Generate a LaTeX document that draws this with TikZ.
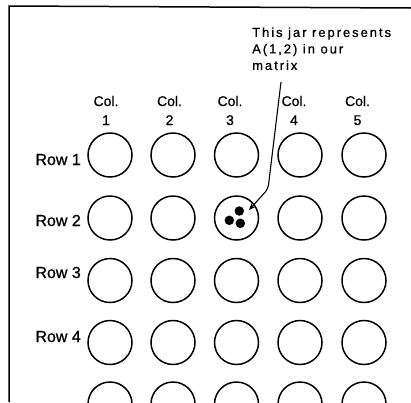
\documentclass[tikz,border=0pt]{standalone}
\usepackage{fontspec}
\setmainfont[FakeBold=0.8]{Liberation Sans}
\newfontfamily\annfont[LetterSpace=15,FakeBold=0.8]{Liberation Sans}
\usetikzlibrary{arrows.meta}
\begin{document}
\begin{tikzpicture}[x=1pt,y=-1pt,
  jar/.style={circle,draw,line width=1.5pt,minimum size=44pt,inner sep=0pt},
  rowlab/.style={anchor=base east,inner sep=0pt,font=\fontsize{16}{19}\selectfont},
  collab/.style={anchor=base,inner sep=0pt,font=\fontsize{14}{17}\selectfont},
  bead/.style={circle,fill,minimum size=9.5pt,inner sep=0pt},
  leader/.style={line width=1.1pt,rounded corners=4pt,-{Stealth[length=7pt,width=5.5pt]}}]
\useasboundingbox (0,0) rectangle (411,402);
\clip (0,0) rectangle (411,402);
\draw[line width=1.5pt] (9,402) -- (9,6) -- (411,8);
\foreach \r/\y in {1/155,2/218,3/280.5,4/342.5,5/404}
  \foreach \c/\x in {1/110,2/173,3/236.5,4/300,5/364}
    \node[jar] (j\r\c) at (\x,\y) {};
\foreach \c/\x in {1/106,2/169.5,3/230,4/294,5/357.5} {
  \node[collab] (cl\c) at (\x,106) {Col.};
  \node[collab] (cn\c) at (\x,125) {\c};
}
\foreach \r/\y in {1/165,2/226,3/278,4/342}
  \node[rowlab] (rl\r) at (81,\y) {Row \r};
\node[bead] (d1) at (239.3,211) {};
\node[bead] (d2) at (229.3,220.3) {};
\node[bead] (d3) at (240.3,223.3) {};
\node[anchor=north west,inner sep=0pt,align=left,font=\annfont\fontsize{13}{16.5}\selectfont] (note) at (252,27.3) {This jar represents\\A(1,2) in our\\matrix};
\coordinate (lt) at (281,82);
\coordinate (lb) at (268,189);
\coordinate (tip) at (249,210);
\draw[leader] (lt) -- (lb) -- (tip);
\end{tikzpicture}
\end{document}
